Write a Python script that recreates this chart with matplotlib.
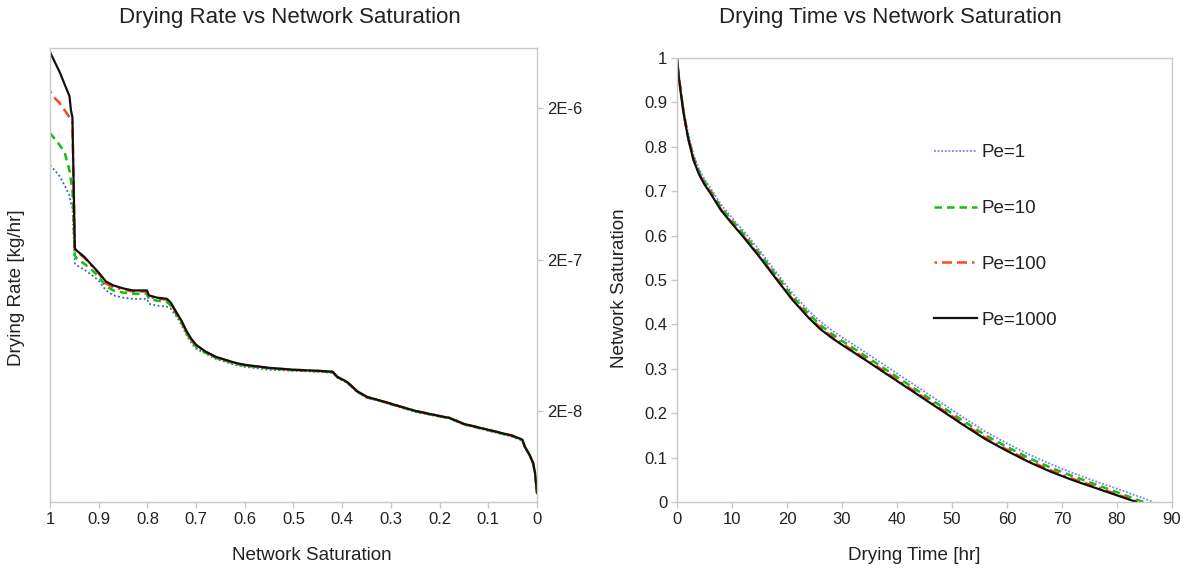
import matplotlib
matplotlib.use("Agg")
import matplotlib.pyplot as plt
from matplotlib.ticker import FixedLocator, FixedFormatter, MultipleLocator, FuncFormatter, NullLocator

plt.rcParams['font.family'] = ['Liberation Sans', 'DejaVu Sans']

# ---------------- Data: Drying rate vs network saturation ----------------
sat_rate = [1.000, 0.990, 0.980, 0.970, 0.960, 0.957, 0.954, 0.949, 0.945, 0.930,
            0.915, 0.900, 0.885, 0.870, 0.850, 0.830, 0.801, 0.797, 0.780, 0.760,
            0.752, 0.740, 0.730, 0.720, 0.710, 0.700, 0.680, 0.660, 0.640, 0.620,
            0.600, 0.550, 0.500, 0.450, 0.420, 0.410, 0.390, 0.370, 0.350, 0.320,
            0.300, 0.250, 0.200, 0.180, 0.150, 0.100, 0.050, 0.030, 0.025, 0.015,
            0.008, 0.004, 0.000]

rate_pe1 = [8.39e-7, 7.77e-7, 7.09e-7, 6.18e-7, 5.31e-7, 4.70e-7, 4.56e-7, 1.88e-7, 1.83e-7, 1.72e-7,
            1.59e-7, 1.45e-7, 1.25e-7, 1.16e-7, 1.12e-7, 1.10e-7, 1.10e-7, 1.02e-7, 9.92e-8, 9.77e-8,
            9.47e-8, 8.39e-8, 7.42e-8, 6.37e-8, 5.64e-8, 5.15e-8, 4.77e-8, 4.42e-8, 4.22e-8, 4.03e-8,
            3.91e-8, 3.74e-8, 3.68e-8, 3.63e-8, 3.57e-8, 3.31e-8, 3.06e-8, 2.67e-8, 2.44e-8, 2.30e-8,
            2.20e-8, 1.97e-8, 1.83e-8, 1.78e-8, 1.62e-8, 1.48e-8, 1.35e-8, 1.27e-8, 1.15e-8, 1.01e-8,
            9.0e-9, 7.7e-9, 5.7e-9]

rate_pe10 = [1.37e-6, 1.25e-6, 1.14e-6, 1.02e-6, 7.77e-7, 6.67e-7, 5.91e-7, 2.13e-7, 2.03e-7, 1.88e-7,
             1.72e-7, 1.54e-7, 1.33e-7, 1.25e-7, 1.21e-7, 1.19e-7, 1.19e-7, 1.10e-7, 1.07e-7, 1.05e-7,
             9.92e-8, 8.64e-8, 7.65e-8, 6.57e-8, 5.81e-8, 5.31e-8, 4.84e-8, 4.49e-8, 4.29e-8, 4.10e-8,
             3.98e-8, 3.82e-8, 3.72e-8, 3.66e-8, 3.61e-8, 3.34e-8, 3.09e-8, 2.69e-8, 2.46e-8, 2.32e-8,
             2.22e-8, 1.99e-8, 1.84e-8, 1.79e-8, 1.63e-8, 1.49e-8, 1.36e-8, 1.28e-8, 1.16e-8, 1.02e-8,
             9.0e-9, 7.7e-9, 5.7e-9]

rate_pe100 = [2.59e-6, 2.33e-6, 2.16e-6, 1.94e-6, 1.74e-6, 1.69e-6, 1.62e-6, 2.33e-7, 2.26e-7, 2.06e-7,
              1.83e-7, 1.62e-7, 1.39e-7, 1.31e-7, 1.27e-7, 1.23e-7, 1.23e-7, 1.14e-7, 1.10e-7, 1.09e-7,
              1.02e-7, 8.78e-8, 7.77e-8, 6.67e-8, 5.91e-8, 5.39e-8, 4.90e-8, 4.54e-8, 4.34e-8, 4.15e-8,
              4.02e-8, 3.84e-8, 3.74e-8, 3.68e-8, 3.63e-8, 3.36e-8, 3.11e-8, 2.71e-8, 2.48e-8, 2.33e-8,
              2.23e-8, 2.00e-8, 1.85e-8, 1.80e-8, 1.64e-8, 1.50e-8, 1.37e-8, 1.29e-8, 1.16e-8, 1.02e-8,
              9.05e-9, 7.77e-9, 5.73e-9]

rate_pe1000 = [4.70e-6, 4.03e-6, 3.46e-6, 2.88e-6, 2.40e-6, 1.94e-6, 1.74e-6, 2.37e-7, 2.29e-7, 2.09e-7,
               1.85e-7, 1.64e-7, 1.43e-7, 1.35e-7, 1.29e-7, 1.25e-7, 1.25e-7, 1.16e-7, 1.12e-7, 1.10e-7,
               1.04e-7, 8.91e-8, 7.89e-8, 6.78e-8, 5.99e-8, 5.47e-8, 4.92e-8, 4.56e-8, 4.35e-8, 4.16e-8,
               4.03e-8, 3.85e-8, 3.74e-8, 3.68e-8, 3.63e-8, 3.36e-8, 3.11e-8, 2.71e-8, 2.48e-8, 2.33e-8,
               2.23e-8, 2.00e-8, 1.85e-8, 1.80e-8, 1.64e-8, 1.50e-8, 1.37e-8, 1.29e-8, 1.16e-8, 1.02e-8,
               9.05e-9, 7.77e-9, 5.73e-9]

rate_ticks = [2e-6, 2e-7, 2e-8]
rate_tick_labels = ["2E-6", "2E-7", "2E-8"]

# ---------------- Data: Network saturation vs drying time ----------------
time_pe1 = [0, 0.3, 0.7, 1.2, 2, 3, 4, 5, 6, 8, 10, 12, 15, 18, 21, 24, 26, 28, 30, 34,
            38, 43, 48, 52, 56, 60, 64, 68, 72, 76, 80, 84, 86.6]
sat_pe1 = [1.0, 0.965, 0.927, 0.884, 0.831, 0.782, 0.750, 0.727, 0.709, 0.670, 0.640, 0.612,
           0.567, 0.518, 0.470, 0.430, 0.407, 0.388, 0.371, 0.339, 0.306, 0.265, 0.224, 0.191,
           0.159, 0.132, 0.107, 0.085, 0.065, 0.047, 0.030, 0.012, 0.0]

time_pe10 = [0, 0.3, 0.7, 1.2, 2, 3, 4, 5, 6, 8, 10, 12, 15, 18, 21, 24, 26, 28, 30, 34,
             38, 43, 48, 52, 56, 60, 64, 68, 72, 76, 80, 84.8]
sat_pe10 = [1.0, 0.962, 0.924, 0.879, 0.825, 0.776, 0.744, 0.721, 0.703, 0.663, 0.634, 0.605,
            0.560, 0.511, 0.463, 0.423, 0.399, 0.380, 0.363, 0.331, 0.298, 0.257, 0.216, 0.183,
            0.151, 0.124, 0.099, 0.077, 0.058, 0.040, 0.022, 0.0]

time_pe100 = [0, 0.3, 0.7, 1.2, 2, 3, 4, 5, 6, 8, 10, 12, 15, 18, 21, 24, 26, 28, 30, 34,
              38, 43, 48, 52, 56, 60, 64, 68, 72, 76, 80, 84.0]
sat_pe100 = [1.0, 0.961, 0.922, 0.877, 0.822, 0.772, 0.740, 0.717, 0.699, 0.659, 0.629, 0.600,
             0.554, 0.505, 0.457, 0.417, 0.393, 0.374, 0.357, 0.325, 0.292, 0.251, 0.210, 0.177,
             0.145, 0.118, 0.093, 0.071, 0.052, 0.035, 0.017, 0.0]

time_pe1000 = [0, 0.3, 0.7, 1.2, 2, 3, 4, 5, 6, 8, 10, 12, 15, 18, 21, 24, 26, 28, 30, 34,
               38, 43, 48, 52, 56, 60, 64, 68, 72, 76, 80, 83.5]
sat_pe1000 = [1.0, 0.96, 0.92, 0.875, 0.82, 0.770, 0.738, 0.715, 0.697, 0.657, 0.627, 0.598,
              0.552, 0.503, 0.455, 0.414, 0.390, 0.371, 0.354, 0.322, 0.289, 0.248, 0.207, 0.174,
              0.142, 0.115, 0.090, 0.068, 0.049, 0.032, 0.015, 0.0]

labels = ["Pe=1", "Pe=10", "Pe=100", "Pe=1000"]

# ---------------- Styles ----------------
TXT = '#222222'
SPINE = '#c8c8c8'
st_pe1_left = dict(color='#3465a4', lw=1.3, ls=(0, (1, 1.4)))
st_pe1_right = dict(color='#7b7bff', lw=1.3, ls=(0, (1, 1)))
st_pe10 = dict(color='#11c011', lw=1.8, ls=(0, (3, 2)))
st_pe100 = dict(color='#ff4719', lw=1.8, ls=(0, (1, 2, 4, 2, 4, 2)))
st_pe1000 = dict(color='#111111', lw=1.6, ls='-')

fig = plt.figure(figsize=(11.86, 5.71), dpi=100)
axL = fig.add_axes([50 / 1186, 1 - 502 / 571, 487 / 1186, 454 / 571])
axR = fig.add_axes([677 / 1186, 1 - 502 / 571, 495 / 1186, 444 / 571])

for ax in (axL, axR):
    for s in ax.spines.values():
        s.set_color(SPINE)
        s.set_linewidth(1.0)
    ax.tick_params(colors=SPINE, labelcolor=TXT, labelsize=12, length=4, width=1, pad=3)

# Left chart
axL.plot(sat_rate, rate_pe1, **st_pe1_left)
axL.plot(sat_rate, rate_pe10, **st_pe10)
axL.plot(sat_rate, rate_pe100, **st_pe100)
axL.plot(sat_rate, rate_pe1000, **st_pe1000)
axL.set_yscale('log')
axL.set_ylim(5e-9, 5e-6)
axL.set_xlim(1, 0)
axL.xaxis.set_major_locator(MultipleLocator(0.1))
axL.xaxis.set_major_formatter(FuncFormatter(lambda v, p: f"{round(v, 1):g}"))
axL.yaxis.tick_right()
axL.yaxis.set_label_position('left')
axL.yaxis.set_major_locator(FixedLocator(rate_ticks))
axL.yaxis.set_major_formatter(FixedFormatter(rate_tick_labels))
axL.yaxis.set_minor_locator(NullLocator())
axL.set_title("Drying Rate vs Network Saturation", fontsize=16, color=TXT, pad=0,
              x=(290 - 50) / 487, y=(502 - 17) / 454, va='center')
axL.set_xlabel("Network Saturation", fontsize=13.6, color=TXT, va='center')
axL.xaxis.set_label_coords((312 - 50) / 487, (502 - 555) / 454)
axL.set_ylabel("Drying Rate [kg/hr]", fontsize=13.6, color=TXT, va='center', ha='center')
axL.yaxis.set_label_coords((17 - 50) / 487, (502 - 288) / 454)

# Right chart
lines = []
lines += axR.plot(time_pe1, sat_pe1, **st_pe1_right)
lines += axR.plot(time_pe10, sat_pe10, **st_pe10)
lines += axR.plot(time_pe100, sat_pe100, **st_pe100)
lines += axR.plot(time_pe1000, sat_pe1000, **st_pe1000)
axR.set_xlim(0, 90)
axR.set_ylim(0, 1)
axR.xaxis.set_major_locator(MultipleLocator(10))
axR.yaxis.set_major_locator(MultipleLocator(0.1))
axR.yaxis.set_major_formatter(FuncFormatter(lambda v, p: f"{round(v, 1):g}"))
axR.set_title("Drying Time vs Network Saturation", fontsize=16, color=TXT, pad=0,
              x=(890 - 677) / 495, y=(502 - 17) / 444, va='center')
axR.set_xlabel("Drying Time [hr]", fontsize=13.6, color=TXT, va='center')
axR.xaxis.set_label_coords((914 - 677) / 495, (502 - 555) / 444)
axR.set_ylabel("Network Saturation", fontsize=13.6, color=TXT, va='center', ha='center')
axR.yaxis.set_label_coords((620 - 677) / 495, (502 - 288) / 444)

leg = axR.legend(lines, labels, loc='upper left',
                 bbox_to_anchor=((934 - 677) / 495, (502 - 144) / 444),
                 frameon=False, fontsize=13.5, labelspacing=2.07, handlelength=2.3,
                 handletextpad=0.25, borderpad=0, borderaxespad=0)
for t in leg.get_texts():
    t.set_color(TXT)

fig.savefig("out.png", dpi=100)
